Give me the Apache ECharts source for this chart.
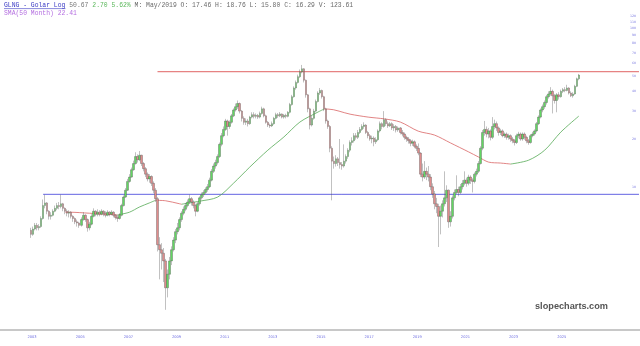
<!DOCTYPE html>
<html><head><meta charset="utf-8">
<script src="https://cdn.jsdelivr.net/npm/echarts@6/dist/echarts.min.js"></script>
<style>html,body{margin:0;padding:0;background:#fff}#c{width:640px;height:346px}</style>
</head><body><div id="c"></div>
<script>
// ---- data (monthly, GLNG log chart) ----
const firstMonth = '2003-04';
const firstOpen = 5.3;
const closes = [
 5.0,5.4,5.7,5.5,5.6,6.3,7.6,7.9,7.0,
 6.5,6.6,7.0,7.3,7.6,7.5,7.8,7.3,7.0,6.8,6.9,6.5,
 6.3,6.0,5.9,5.7,6.2,6.6,6.2,5.5,5.8,6.5,7.0,6.7,
 6.9,6.7,7.0,6.8,6.6,6.9,6.7,6.9,6.6,6.4,6.3,6.6,
 7.6,8.6,9.5,10.8,11.5,12.8,14.0,15.5,14.8,15.8,14.0,13.0,
 12.0,11.2,11.6,10.5,9.5,8.4,4.3,4.0,3.8,3.4,2.3,2.8,
 3.4,4.0,4.6,5.2,5.5,6.2,6.8,7.2,7.6,8.0,8.4,8.0,
 7.6,7.0,7.8,8.5,8.9,9.2,9.6,10.0,11.0,12.5,13.5,14.2,
 15.5,18.5,21.0,23.0,26.0,24.0,25.5,28.0,30.5,32.0,33.5,30.0,
 27.0,25.5,26.0,25.0,27.5,28.5,27.8,28.2,27.5,29.0,31.0,28.0,
 25.5,24.5,24.2,25.0,27.0,28.5,28.0,28.8,27.5,28.2,27.8,29.5,
 33.0,37.0,42.0,45.5,49.5,53.0,55.5,47.0,38.0,31.0,24.5,27.0,
 30.0,34.5,39.0,40.5,37.0,31.0,26.0,24.0,17.5,14.5,14.0,15.0,
 14.2,13.8,13.5,14.5,15.5,17.0,19.0,19.5,21.0,20.5,22.0,23.0,
 24.0,24.5,22.0,21.0,20.0,20.3,19.2,19.8,22.5,25.0,24.0,26.5,
 25.0,24.2,25.0,23.5,24.0,22.8,23.5,22.0,21.5,20.5,20.0,19.5,
 18.8,19.2,18.0,17.46,16.29,12.0,11.5,12.5,12.0,11.5,10.0,9.0,
 7.8,7.5,6.5,7.0,7.8,8.5,9.5,6.0,6.5,8.5,9.2,9.6,
 9.2,10.0,10.5,11.0,10.5,11.5,11.0,10.8,12.0,12.5,14.0,17.5,
 22.0,23.0,21.5,22.5,20.5,24.0,25.0,23.5,22.0,22.5,21.0,21.5,
 20.5,21.0,20.0,19.5,19.0,21.0,21.5,20.0,21.5,20.5,19.5,19.0,
 21.0,21.5,22.5,25.0,27.5,30.5,32.0,34.0,37.0,38.5,40.0,37.5,
 35.0,38.0,37.0,40.0,41.0,40.5,42.0,39.0,37.5,38.5,43.0,47.97,
 50.67
];
const highs = [
 5.5,5.6,5.9,5.9,5.8,6.5,8.3,8.9,8.0,
 7.1,6.9,7.2,7.6,7.9,8.0,8.9,7.9,7.4,7.2,7.1,7.0,
 6.6,6.4,6.2,6.0,6.4,6.9,6.7,6.3,6.0,6.7,7.3,7.1,
 7.2,7.1,7.2,7.1,7.0,7.1,7.0,7.1,7.0,6.7,6.6,6.8,
 7.8,8.8,9.8,11.2,12.0,13.2,14.6,16.5,16.0,16.8,15.9,14.3,
 13.3,12.3,12.0,11.8,10.8,9.8,8.6,4.8,4.4,4.1,3.5,3.0,
 3.6,4.2,4.8,5.4,5.9,6.4,7.0,7.5,7.9,8.3,8.9,8.6,
 8.2,7.8,8.0,8.7,9.2,9.5,9.9,10.4,11.4,12.9,14.0,14.8,
 16.0,19.0,21.8,24.0,26.8,26.5,26.2,28.8,31.2,33.5,35.0,34.0,
 30.5,27.8,27.0,26.8,28.0,29.5,29.5,29.0,28.8,29.8,32.0,31.5,
 28.5,26.0,25.0,25.8,27.6,29.3,29.2,29.6,29.0,28.8,28.9,30.0,
 33.8,38.0,43.0,46.8,51.0,55.0,58.7,56.0,47.5,38.5,31.5,28.0,
 31.0,35.5,40.0,42.0,41.0,37.5,31.5,26.5,24.5,18.0,15.5,15.8,
 15.4,20.0,14.3,18.5,16.0,17.5,19.6,20.5,21.8,21.8,22.8,23.8,
 24.8,25.5,24.8,22.5,21.5,21.0,20.8,20.5,23.0,25.8,25.5,30.0,
 27.0,25.8,25.6,25.5,24.8,24.5,24.0,23.8,22.8,22.0,21.0,20.6,
 20.0,19.8,19.6,18.5,18.76,16.5,14.0,14.5,13.2,13.5,12.0,10.5,
 9.4,8.5,7.8,7.6,8.2,12.5,10.2,9.6,7.0,8.8,9.6,11.8,
 10.0,10.4,11.0,12.5,11.4,11.9,11.8,11.3,12.3,13.0,14.5,18.0,
 22.8,26.0,24.0,23.5,23.0,27.5,26.5,25.8,24.0,23.2,23.0,22.0,
 22.0,21.6,21.4,20.6,20.0,21.6,22.2,22.0,22.0,22.0,21.0,20.0,
 21.5,22.2,23.0,25.6,28.2,31.2,33.0,35.0,38.0,40.0,42.5,41.0,
 38.5,39.0,39.5,41.0,42.0,42.5,44.0,42.5,40.0,39.5,44.0,48.8,
 51.5
];
const lows = [
 4.75,4.9,5.3,5.3,5.3,5.5,6.2,7.3,6.7,
 6.2,6.2,6.5,6.9,7.1,7.2,7.3,7.0,6.7,6.5,6.4,6.3,
 6.0,5.8,5.6,5.5,5.6,6.1,6.0,5.2,5.3,5.7,6.4,6.5,
 6.5,6.5,6.6,6.5,6.4,6.5,6.5,6.6,6.4,6.2,6.0,6.2,
 6.5,7.5,8.5,9.4,10.6,11.4,12.6,13.8,14.2,14.5,13.5,12.5,
 11.5,10.8,10.6,10.1,9.1,8.0,3.9,2.6,3.0,2.5,1.67,2.0,
 2.6,3.2,3.9,4.4,5.0,5.3,6.0,6.6,7.0,7.4,7.8,7.6,
 7.3,6.5,6.9,7.6,8.3,8.6,9.0,9.3,9.8,10.8,12.2,13.0,
 13.8,15.2,18.0,20.5,22.5,21.0,23.2,25.0,27.5,29.8,31.0,29.0,
 25.8,24.6,24.5,24.0,24.6,27.0,27.0,27.0,26.8,27.0,28.5,27.4,
 25.0,23.8,23.5,23.8,24.6,26.6,27.2,27.5,27.0,26.9,27.0,27.4,
 29.0,32.5,36.5,41.0,44.8,48.5,52.0,45.5,36.5,29.5,23.0,24.0,
 26.5,29.5,34.0,38.0,36.0,30.0,25.0,23.2,16.5,8.2,13.0,13.4,
 13.5,13.0,12.8,13.2,14.0,15.0,16.5,18.2,19.0,19.8,20.0,21.5,
 22.5,23.2,21.5,20.2,19.5,18.8,18.0,18.6,19.4,22.0,23.0,23.6,
 24.2,23.5,23.8,22.8,22.5,22.0,22.2,21.4,20.8,19.8,19.2,18.7,
 18.0,18.1,17.5,16.8,15.80,11.5,10.8,11.2,11.0,10.8,9.5,8.5,
 7.2,6.8,4.16,5.0,6.4,7.5,8.0,5.5,5.6,6.3,8.2,9.0,
 8.7,9.0,9.6,10.2,10.0,10.2,10.4,9.2,10.5,11.6,12.2,13.8,
 17.0,21.0,20.5,20.2,19.6,20.0,23.0,22.5,21.0,21.2,20.5,20.3,
 19.8,19.8,19.2,18.8,18.2,18.6,20.2,19.5,19.5,19.8,18.8,18.4,
 18.7,20.5,21.0,22.0,24.5,27.0,29.5,31.0,33.0,36.0,37.5,29.0,
 33.5,29.5,35.5,36.5,39.0,39.5,40.0,38.2,36.8,36.5,38.0,42.5,
 47.0
];
// SMA(50 month): [month name, value]
const smaPoints = [
 ['2004-09',6.9],['2004-11',6.9],['2005-09',6.8],['2006-05',6.7],['2006-11',6.63],
 ['2007-05',6.9],['2007-10',7.44],['2008-03',7.9],['2008-06',8.2],['2008-11',8.15],
 ['2009-06',7.8],['2009-07',7.75],['2010-04',8.1],['2011-01',8.6],['2011-09',10.55],
 ['2012-05',13.3],['2013-02',17.0],['2013-10',20.6],['2014-06',25.6],['2015-03',29.6],
 ['2015-06',30.9],['2015-08',30.9],['2016-07',28.7],['2017-04',27.5],['2017-12',26.8],
 ['2018-08',25.6],['2019-05',22.41],['2020-01',21.2],['2020-09',18.9],['2021-06',16.6],
 ['2021-11',15.4],['2022-04',14.3],['2022-10',14.1],['2023-03',13.9],['2023-12',14.7],
 ['2024-08',17.0],['2025-04',22.1],['2026-01',27.9]
];
const smaTurns = ['2006-11','2008-06','2009-07','2015-06','2023-03']; // slope changes (falling first)
const yTickLabels = [10,20,30,40,50,60,70,80,90,100,110,120];
const resistance = 53.2, resistanceFrom = '2008-07';
const support = 8.95, supportFrom = '2003-10';
const axisFirst = '2002-01', axisLast = '2028-07';

// ---- build ----
function monthName(y, m){ return y + '-' + String(m).padStart(2,'0'); }
const cats = [];
{
  let [y,m] = axisFirst.split('-').map(Number);
  const [ly,lm] = axisLast.split('-').map(Number);
  while (y < ly || (y === ly && m <= lm)) { cats.push(monthName(y,m)); m++; if (m>12){m=1;y++;} }
}
const startIdx = cats.indexOf(firstMonth);
const candles = [];
let prev = firstOpen;
closes.forEach((c,i)=>{
  const o = prev;
  candles.push([cats[startIdx+i], o, c, Math.min(lows[i],o,c), Math.max(highs[i],o,c)]);
  prev = c;
});
const lastCat = cats[cats.length-1];

const smaSeries = [];
{
  const bounds = [null].concat(smaTurns).concat([null]);
  const colors = ['#d96464','#55aa55'];
  for (let k=0;k<bounds.length-1;k++){
    const a = bounds[k], b = bounds[k+1];
    const pts = smaPoints.filter(p => (a===null || p[0] >= a) && (b===null || p[0] <= b));
    smaSeries.push({type:'line', data: pts, showSymbol:false, smooth:0.3, silent:true,
      lineStyle:{color: colors[k%2], width:0.8}, z:3});
  }
}
function levelSeries(value, from, color){
  return {type:'line', data:[[from, value],[lastCat, value]], showSymbol:false, silent:true, z:2,
    lineStyle:{color:color, width:1, type:'solid'}, itemStyle:{color:color}};
}

const chart = echarts.init(document.getElementById('c'), null, {renderer:'canvas'});
const charW = 3.84, hx = 4, mono = '"Liberation Mono", "DejaVu Sans Mono", monospace';
function hText(col, y, text, fill){
  return {type:'text', x: hx + col*charW, y: y, silent:true,
    style:{text:text, fontSize:6.4, fontFamily:mono, fill:fill, verticalAlign:'middle'}};
}
chart.setOption({
  animation:false,
  backgroundColor:'#ffffff',
  grid:{left:0, right:0, top:0, bottom:16, outerBoundsMode:'none', containLabel:false},
  xAxis:{type:'category', data:cats, boundaryGap:true,
    axisLine:{show:true, lineStyle:{color:'#c8c8c8', width:2}},
    axisTick:{show:false}, splitLine:{show:false},
    axisLabel:{interval:(i,v)=>{const y=+v.slice(0,4); return v.slice(5)==='01' && y%2===1 && y>=2003 && y<=2025;},
      formatter:v=>v.slice(0,4), fontSize:3.6, color:'#6a6ae0', margin:5, padding:[0,0,0,14],
      fontFamily:'DejaVu Sans'}},
  yAxis:{type:'log', logBase:10, min:1.245, max:150.9, position:'right',
    axisLine:{show:false}, axisTick:{show:false}, splitLine:{show:false},
    axisLabel:{inside:true, customValues:yTickLabels, fontSize:3.2, color:'#7a7ae0', margin:4,
      fontFamily:'DejaVu Sans', formatter:v=>String(Math.round(v))}},
  series:[
    levelSeries(resistance, resistanceFrom, '#e06464'),
    levelSeries(support, supportFrom, '#6464e2'),
    {type:'candlestick', data:candles, encode:{x:0, y:[1,2,3,4]}, barWidth:2, silent:true, z:4,
     itemStyle:{color:'#62d662', color0:'#e08c8c', borderColor:'#4a4a4a', borderColor0:'#4a4a4a', borderWidth:0.35}}
  ].concat(smaSeries),
  graphic:[
    hText(0, 5, 'GLNG - Golar Log', '#3b3bc4'),
    {type:'line', silent:true, shape:{x1:hx, y1:8.6, x2:hx+16*charW, y2:8.6}, style:{stroke:'#3b3bc4', lineWidth:0.6}},
    hText(17, 5, '50.67', '#777777'),
    hText(23, 5, '2.70 5.62%', '#5cb85c'),
    hText(34, 5, 'M: May/2019 O: 17.46 H: 18.76 L: 15.80 C: 16.29 V: 123.61', '#6a6a6a'),
    hText(0, 13.3, 'SMA(50 Month) 22.41', '#b46ee0'),
    {type:'text', x:535, y:306, silent:true, style:{text:'slopecharts.com', fontSize:9.2, fontWeight:'bold',
      fontFamily:'"Liberation Sans", Arial, sans-serif', fill:'#555555', verticalAlign:'middle'}}
  ]
});
</script></body></html>
